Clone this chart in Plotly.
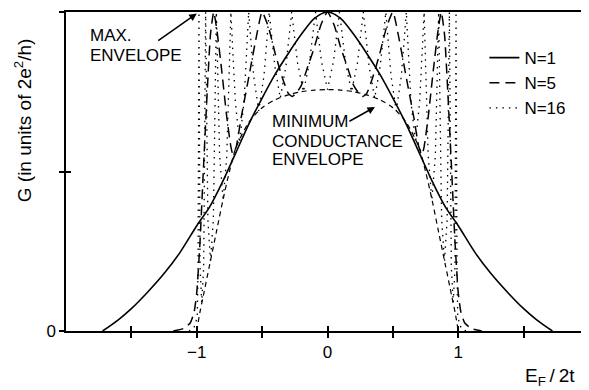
import plotly.graph_objects as go

# ---- data ----
# N=1 (solid)
x_n1 = [-1.72, -1.6, -1.5, -1.38, -1.25, -1.13, -1.0, -0.9, -0.8, -0.7, -0.6, -0.5, -0.4, -0.3, -0.2, -0.1, 0.0,
        0.1, 0.2, 0.3, 0.4, 0.5, 0.6, 0.7, 0.8, 0.9, 1.0, 1.13, 1.25, 1.38, 1.5, 1.6, 1.72]
g_n1 = [0.0, 0.035, 0.07, 0.12, 0.18, 0.245, 0.33, 0.39, 0.47, 0.56, 0.65, 0.73, 0.805, 0.87, 0.93, 0.98, 1.0,
        0.98, 0.93, 0.87, 0.805, 0.73, 0.65, 0.56, 0.47, 0.39, 0.33, 0.245, 0.18, 0.12, 0.07, 0.035, 0.0]

# N=5 (dashed)
x_n5 = [-1.18, -1.10, -1.05, -1.02, -1.00, -0.975, -0.95, -0.92, -0.895, -0.87, -0.845, -0.81, -0.77, -0.74,
        -0.725, -0.70, -0.66, -0.60, -0.55, -0.50, -0.45, -0.40, -0.35, -0.30, -0.27, -0.24, -0.20, -0.15,
        -0.10, -0.05, 0.0,
        0.05, 0.10, 0.15, 0.20, 0.24, 0.27, 0.30, 0.35, 0.40, 0.45, 0.50, 0.55, 0.60, 0.66, 0.70, 0.725,
        0.74, 0.77, 0.81, 0.845, 0.87, 0.895, 0.92, 0.95, 0.975, 1.00, 1.02, 1.05, 1.10, 1.18]
g_n5 = [0.0, 0.008, 0.025, 0.06, 0.12, 0.28, 0.5, 0.75, 0.93, 1.0, 0.94, 0.82, 0.67, 0.58,
        0.555, 0.575, 0.67, 0.80, 0.91, 1.0, 0.95, 0.87, 0.80, 0.745, 0.735, 0.745, 0.77, 0.83,
        0.89, 0.96, 1.0,
        0.96, 0.89, 0.83, 0.77, 0.745, 0.735, 0.745, 0.80, 0.87, 0.95, 1.0, 0.91, 0.80, 0.67, 0.575, 0.555,
        0.58, 0.67, 0.82, 0.94, 1.0, 0.93, 0.75, 0.5, 0.28, 0.12, 0.06, 0.025, 0.008, 0.0]

# N=16 (dotted)
x_n16 = [-1.06, -1.03, -1.01, -0.996, -0.99, -0.983, -0.975, -0.962, -0.947, -0.932, -0.915, -0.895, -0.873,
         -0.850, -0.825, -0.798, -0.770, -0.739, -0.705, -0.673, -0.638, -0.603, -0.565, -0.526, -0.486,
         -0.446, -0.403, -0.361, -0.318, -0.274, -0.229, -0.184, -0.138, -0.092, -0.046, 0.0,
         0.046, 0.092, 0.138, 0.184, 0.229, 0.274, 0.318, 0.361, 0.403, 0.446, 0.486, 0.526, 0.565, 0.603,
         0.638, 0.673, 0.705, 0.739, 0.770, 0.798, 0.825, 0.850, 0.873, 0.895, 0.915, 0.932, 0.947, 0.962,
         0.975, 0.983, 0.99, 0.996, 1.01, 1.03, 1.06]
g_n16 = [0.0, 0.005, 0.02, 0.05, 0.2, 1.0, 0.2, 0.09, 0.2, 1.0, 0.35, 0.22, 0.35,
         1.0, 0.55, 0.41, 0.55, 1.0, 0.72, 0.59, 0.72, 1.0, 0.8, 0.69, 0.8,
         1.0, 0.83, 0.73, 0.83, 1.0, 0.84, 0.75, 0.84, 1.0, 0.845, 0.757,
         0.845, 1.0, 0.84, 0.75, 0.84, 1.0, 0.83, 0.73, 0.83, 1.0, 0.8, 0.69, 0.8, 1.0,
         0.72, 0.59, 0.72, 1.0, 0.55, 0.41, 0.55, 1.0, 0.35, 0.22, 0.35, 1.0, 0.2, 0.09,
         0.2, 1.0, 0.2, 0.05, 0.02, 0.005, 0.0]

# minimum conductance envelope (short dashes)
x_env = [-1.0, -0.977, -0.95, -0.9, -0.85, -0.8, -0.75, -0.7, -0.6, -0.5, -0.4, -0.3, -0.2, -0.1, 0.0,
         0.1, 0.2, 0.3, 0.4, 0.5, 0.6, 0.7, 0.75, 0.8, 0.85, 0.9, 0.95, 0.977, 1.0]
g_env = [0.0, 0.056, 0.11, 0.21, 0.31, 0.41, 0.50, 0.575, 0.655, 0.70, 0.725, 0.74, 0.75, 0.755, 0.757,
         0.755, 0.75, 0.74, 0.725, 0.70, 0.655, 0.575, 0.50, 0.41, 0.31, 0.21, 0.11, 0.056, 0.0]

x_tickvals = [-1.5, -1.0, -0.5, 0.0, 0.5, 1.0, 1.5]
x_ticktext = ["", "\u22121", "", "0", "", "1", ""]
y_tickvals = [0.0, 0.5, 1.0]
y_ticktext = ["0", "", "1"]

FONT = "Liberation Sans, Arial, sans-serif"
BLACK = "black"

fig = go.Figure()
fig.add_trace(go.Scatter(x=x_n1, y=g_n1, mode="lines", name="N=1",
                         line=dict(color=BLACK, width=1.6, shape="spline", smoothing=0.8)))
fig.add_trace(go.Scatter(x=x_n5, y=g_n5, mode="lines", name="N=5",
                         line=dict(color=BLACK, width=1.5, dash="10px,6px", shape="spline", smoothing=0.5)))
fig.add_trace(go.Scatter(x=x_n16, y=g_n16, mode="lines", name="N=16",
                         line=dict(color=BLACK, width=1.3, dash="1.5px,5px")))
fig.add_trace(go.Scatter(x=x_env, y=g_env, mode="lines", name="envelope", showlegend=False,
                         line=dict(color=BLACK, width=1.2, dash="5px,4px", shape="spline", smoothing=0.8)))
# invisible trace to carry the inner tick axes
fig.add_trace(go.Scatter(x=[], y=[], xaxis="x2", yaxis="y2", showlegend=False, hoverinfo="skip"))

axis_common = dict(showgrid=False, zeroline=False, tickcolor=BLACK, tickwidth=1.5, ticklen=5)

# the page body adds an 8px offset, so the figure is 8px smaller and margins shifted
fig.update_layout(
    width=581, height=382,
    margin=dict(l=58, r=0, t=4, b=59),
    paper_bgcolor="white", plot_bgcolor="white",
    font=dict(family=FONT, size=17, color=BLACK),
    showlegend=True,
    legend=dict(x=0.80, y=0.912, xanchor="left", yanchor="top", bgcolor="rgba(0,0,0,0)",
                font=dict(size=17, family=FONT, color=BLACK), borderwidth=0),
    xaxis=dict(range=[-2, 2], showline=True, linecolor=BLACK, linewidth=1.5, mirror=True,
               ticks="outside", tickvals=x_tickvals, ticktext=x_ticktext,
               tickfont=dict(size=17, family=FONT, color=BLACK), **axis_common),
    yaxis=dict(range=[0, 1], showline=True, linecolor=BLACK, linewidth=1.5,
               ticks="outside", tickvals=y_tickvals, ticktext=y_ticktext,
               tickfont=dict(size=17, family=FONT, color=BLACK), **axis_common),
    xaxis2=dict(range=[-2, 2], overlaying="x", anchor="y", side="bottom", showline=False,
                ticks="inside", tickvals=x_tickvals, showticklabels=False, **axis_common),
    yaxis2=dict(range=[0, 1], overlaying="y", anchor="x", side="left", showline=False,
                ticks="inside", tickvals=y_tickvals, showticklabels=False, **axis_common),
)

ann_font = dict(family=FONT, size=17, color=BLACK)
fig.add_annotation(text="G (in units of 2e<sup>2</sup>/h)", xref="paper", yref="paper",
                   x=-0.082, y=0.661, textangle=-90, showarrow=False,
                   xanchor="center", yanchor="middle", font=dict(family=FONT, size=19, color=BLACK))
fig.add_annotation(text="E<sub>F</sub>\u2009/\u20092t", xref="paper", yref="paper", x=0.925, y=-0.143,
                   showarrow=False, xanchor="center", yanchor="middle",
                   font=dict(family=FONT, size=19, color=BLACK))
fig.add_annotation(text="MAX.", xref="paper", yref="paper", x=0.042, y=0.925,
                   showarrow=False, xanchor="left", yanchor="middle", font=ann_font)
fig.add_annotation(text="ENVELOPE", xref="paper", yref="paper", x=0.042, y=0.865,
                   showarrow=False, xanchor="left", yanchor="middle", font=ann_font)
fig.add_annotation(text="", x=-1.0, y=0.995, xref="x", yref="y", showarrow=True,
                   ax=-40, ay=28, arrowhead=2, arrowsize=1, arrowwidth=1.5, arrowcolor=BLACK)
fig.add_annotation(text="MINIMUM", xref="paper", yref="paper", x=0.390, y=0.6552,
                   showarrow=False, xanchor="left", yanchor="middle", font=ann_font)
fig.add_annotation(text="CONDUCTANCE", xref="paper", yref="paper", x=0.390, y=0.5956,
                   showarrow=False, xanchor="left", yanchor="middle", font=ann_font)
fig.add_annotation(text="ENVELOPE", xref="paper", yref="paper", x=0.390, y=0.5361,
                   showarrow=False, xanchor="left", yanchor="middle", font=ann_font)
fig.add_annotation(text="", x=0.363, y=0.702, xref="x", yref="y", showarrow=True,
                   ax=-27, ay=15, arrowhead=2, arrowsize=1, arrowwidth=1.5, arrowcolor=BLACK)

fig.write_html("out.html")
